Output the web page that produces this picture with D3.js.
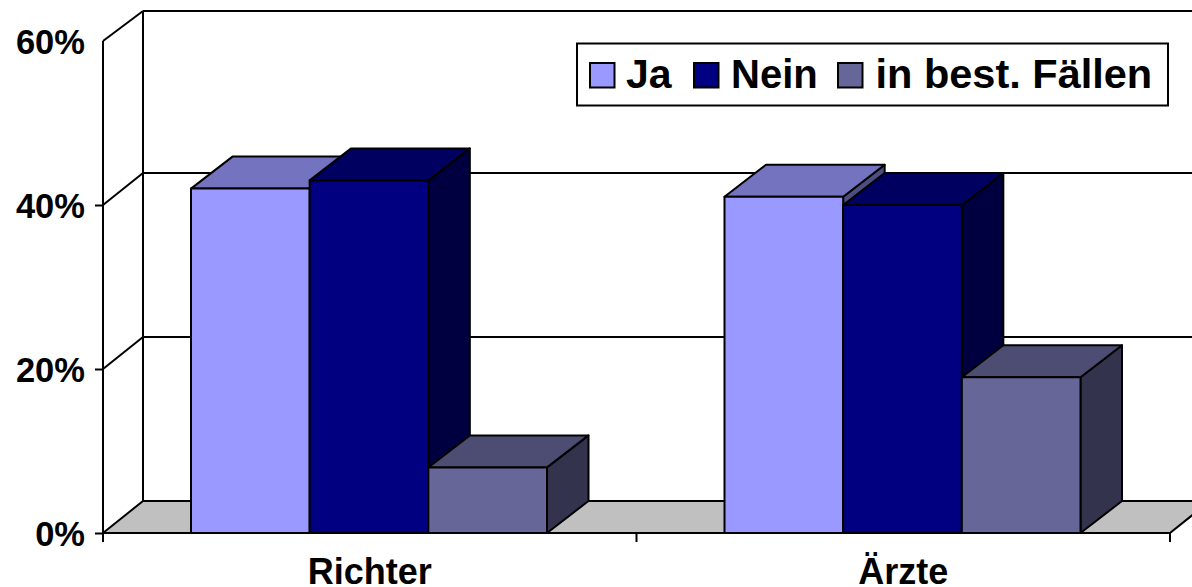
<!DOCTYPE html>
<html>
<head>
<meta charset="utf-8">
<script src="https://cdn.jsdelivr.net/npm/d3@7"></script>
<style>
html, body { margin: 0; padding: 0; background: #fff; overflow: hidden; }
text { font-family: "Liberation Sans", Arial, sans-serif; font-weight: bold; fill: #000; }
</style>
</head>
<body>
<div id="chart"></div>
<script>
var categories = ['Richter', 'Ärzte']
var seriesNames = ['Ja', 'Nein', 'in best. Fällen']
var seriesColors = ['#9999ff', '#000080', '#666699']
var jaValues = [42, 41]
var neinValues = [43, 40]
var bestValues = [8, 19]
var yTicks = [0, 20, 40, 60]

var seriesValues = [jaValues, neinValues, bestValues]

var width = 1192, height = 587
var depthX = 40, depthY = 32, barDepthX = 41.5
var left = 103, right = 1170, bottom = 533, topFront = 41, topBack = 11

var svg = d3.select('#chart').append('svg')
    .attr('width', width)
    .attr('height', height)
    .style('display', 'block')

var y = d3.scaleLinear().domain([0, 60]).range([bottom, topFront])
var x0 = d3.scaleBand().domain(categories).range([left, right])
var x1 = d3.scaleBand().domain(seriesNames).range([88, 88 + 356])

function line(x1p, y1p, x2p, y2p) {
    svg.append('line')
        .attr('x1', x1p).attr('y1', y1p)
        .attr('x2', x2p).attr('y2', y2p)
        .attr('stroke', '#000')
        .attr('stroke-width', 2)
}

function poly(points, fill) {
    svg.append('polygon')
        .attr('points', points.join(' '))
        .attr('fill', fill)
        .attr('stroke', '#000')
        .attr('stroke-width', 2)
        .attr('stroke-linejoin', 'round')
}

function shade(col, k) {
    return d3.rgb(col.r * k, col.g * k, col.b * k)
}

// floor
poly([[left, bottom], [left + depthX, bottom - depthY], [right + depthX, bottom - depthY], [right, bottom]], '#c0c0c0')

// walls and gridlines
line(left + depthX, topBack, left + depthX, bottom - depthY)
line(left + depthX, topBack, width, topBack)
line(left, topFront, left + depthX, topBack)
line(left, topFront, left, bottom + 9)
yTicks.slice(1, 3).forEach(function(t) {
    line(left, y(t), left + depthX, y(t) - depthY)
    line(left + depthX, y(t) - depthY, width, y(t) - depthY)
})

// bars
categories.forEach(function(cat, c) {
    seriesNames.forEach(function(name, s) {
        var xa = x0(cat) + x1(name)
        var xb = xa + x1.bandwidth()
        var yt = y(seriesValues[s][c])
        var col = d3.rgb(seriesColors[s])
        poly([[xb, bottom], [xb + barDepthX, bottom - depthY], [xb + barDepthX, yt - depthY], [xb, yt]], shade(col, 0.5))
        poly([[xa, yt], [xa + barDepthX, yt - depthY], [xb + barDepthX, yt - depthY], [xb, yt]], shade(col, 0.75))
        poly([[xa, bottom], [xa, yt], [xb, yt], [xb, bottom]], col)
    })
})

// axes
line(left, bottom, right, bottom)
categories.concat(['end']).forEach(function(cat, i) {
    var px = left + i * x0.step()
    line(px, bottom, px, bottom + 9)
})

var yAxis = svg.append('g')
    .attr('transform', 'translate(' + left + ',0)')
    .call(d3.axisLeft(y).tickValues(yTicks).tickFormat(function(d) { return d + '%' }).tickSize(8).tickPadding(10))
yAxis.select('.domain').remove()
yAxis.selectAll('line')
    .attr('stroke', '#000')
    .attr('stroke-width', 2)
    .attr('display', function(d) { return d == 60 ? 'none' : null })
yAxis.selectAll('text')
    .style('font-size', '34.5px')
    .attr('dy', '0.36em')

var xAxis = svg.append('g')
    .attr('transform', 'translate(0,' + bottom + ')')
    .call(d3.axisBottom(x0).tickSize(0).tickPadding(0))
xAxis.select('.domain').remove()
xAxis.selectAll('line').remove()
xAxis.selectAll('text')
    .style('font-size', '36px')
    .attr('y', 50.5)
    .attr('dy', 0)

// legend
svg.append('rect')
    .attr('x', 577).attr('y', 43.5)
    .attr('width', 591).attr('height', 62)
    .attr('fill', '#fff')
    .attr('stroke', '#000')
    .attr('stroke-width', 2)

var legendSwatchX = [590, 694, 838]
var legendTextX = [626, 731, 875.5]
var legendFontSize = [41, 40, 41.5]
seriesNames.forEach(function(name, i) {
    svg.append('rect')
        .attr('x', legendSwatchX[i]).attr('y', 63)
        .attr('width', 24.5).attr('height', 24.5)
        .attr('fill', seriesColors[i])
        .attr('stroke', '#000')
        .attr('stroke-width', 2)
    svg.append('text')
        .attr('x', legendTextX[i]).attr('y', 88)
        .style('font-size', legendFontSize[i] + 'px')
        .text(name)
})
</script>
</body>
</html>
